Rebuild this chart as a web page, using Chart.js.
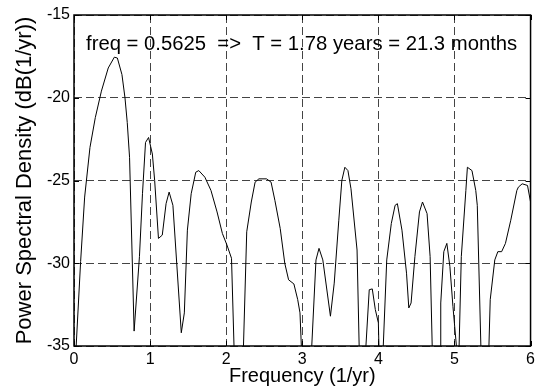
<!DOCTYPE html>
<html>
<head>
<meta charset="utf-8">
<script src="https://cdn.jsdelivr.net/npm/chart.js@4/dist/chart.umd.min.js"></script>
<style>
body { margin: 0; background: #fff; }
#wrap { width: 539px; height: 388px; }
</style>
</head>
<body>
<div id="wrap"><canvas id="psd"></canvas></div>
<script>
// spectrum (1/yr, dB)
const freq = [0, 0.087, 0.14, 0.21, 0.28, 0.36, 0.45, 0.53, 0.57, 0.63, 0.67, 0.70, 0.73, 0.79, 0.86, 0.90, 0.94, 0.98,
  1.03, 1.06, 1.11, 1.16, 1.21, 1.25, 1.30, 1.41, 1.45, 1.49, 1.54, 1.60, 1.64, 1.72, 1.80, 1.88, 1.95,
  2.01, 2.07, 2.165, 2.27, 2.33, 2.38, 2.43, 2.53, 2.59, 2.64, 2.71, 2.77, 2.82, 2.89, 2.94, 2.97,
  3.05, 3.18, 3.22, 3.27, 3.37, 3.42, 3.48, 3.52, 3.56, 3.60, 3.64, 3.72, 3.75, 3.79, 3.83, 3.88, 3.92, 3.96,
  4.00, 4.01, 4.035, 4.06, 4.11, 4.17, 4.22, 4.25, 4.31, 4.37, 4.40, 4.43, 4.48, 4.54, 4.58, 4.64, 4.68, 4.71, 4.76,
  4.81, 4.82, 4.86, 4.90, 4.94, 4.98, 5.035, 5.045, 5.09, 5.15, 5.17, 5.23, 5.28, 5.30, 5.35, 5.40, 5.45, 5.47,
  5.53, 5.57, 5.62, 5.67, 5.74, 5.82, 5.84, 5.89, 5.96, 6.0];
const psd = [-37.5, -29.9, -26.0, -23.0, -21.2, -19.6, -18.2, -17.55, -17.6, -18.6, -20.0, -21.5, -23.6, -34.1, -29.6, -25.8, -22.7, -22.4,
  -23.4, -25.0, -28.5, -28.3, -26.4, -25.7, -26.5, -34.2, -33.0, -28.0, -25.8, -24.5, -24.4, -24.8, -25.6, -26.9, -28.2,
  -28.9, -29.7, -45, -28.1, -26.3, -25.1, -24.9, -24.9, -25.1, -26.2, -27.9, -30.0, -31.0, -31.25, -32.2, -33.0,
  -42, -29.8, -29.1, -29.8, -33.2, -31.2, -27.4, -25.0, -24.2, -24.4, -25.5, -29.2, -35.5, -40, -35.5, -31.6, -31.55, -32.8,
  -33.6, -35.5, -40, -35.5, -29.8, -27.6, -26.5, -26.4, -28.0, -30.6, -32.7, -32.4, -29.6, -26.9, -26.3, -27.0, -29.6, -35.5, -40,
  -35.5, -32.4, -29.3, -28.8, -30.2, -32.6, -35.5, -38, -29.6, -25.6, -24.2, -24.4, -25.6, -26.5, -35.5, -40, -35.5, -32.2,
  -29.8, -29.3, -29.3, -28.8, -27.4, -25.6, -25.4, -25.2, -25.3, -26.3];
const xTicks = [0, 1, 2, 3, 4, 5, 6];
const yTicks = [-35, -30, -25, -20, -15];
const note = 'freq = 0.5625  =>  T = 1.78 years = 21.3 months';

const FONT = "'Liberation Sans', Arial, sans-serif";

// box on all four sides + matlab style inward ticks + the note
const boxPlugin = {
  id: 'box',
  afterDraw(chart) {
    const ctx = chart.ctx;
    const a = chart.chartArea;
    const xs = chart.scales.x, ys = chart.scales.y;
    ctx.save();
    ctx.strokeStyle = '#000';
    ctx.lineWidth = 1;
    ctx.beginPath();
    xTicks.forEach(v => {
      const px = Math.round(xs.getPixelForValue(v)) + 0.5;
      ctx.moveTo(px, a.bottom); ctx.lineTo(px, a.bottom - 5);
      ctx.moveTo(px, a.top); ctx.lineTo(px, a.top + 5);
    });
    yTicks.forEach(v => {
      const py = Math.round(ys.getPixelForValue(v)) + 0.5;
      ctx.moveTo(a.left, py); ctx.lineTo(a.left + 5, py);
      ctx.moveTo(a.right, py); ctx.lineTo(a.right - 5, py);
    });
    ctx.stroke();
    ctx.lineWidth = 1.5;
    ctx.strokeRect(a.left, a.top, a.right - a.left, a.bottom - a.top);
    ctx.fillStyle = '#000';
    ctx.font = '20.3px ' + FONT;
    ctx.textBaseline = 'alphabetic';
    ctx.fillText(note, 86, 50);
    ctx.restore();
  }
};

new Chart(document.getElementById('psd'), {
  type: 'line',
  data: {
    datasets: [{
      data: freq.map((f, i) => ({ x: f, y: psd[i] })),
      borderColor: '#000',
      borderWidth: 1,
      pointRadius: 0,
      tension: 0,
      fill: false,
      clip: 0
    }]
  },
  options: {
    responsive: true,
    maintainAspectRatio: false,
    animation: false,
    layout: { padding: { top: 15, right: 4, left: 0, bottom: 0 } },
    plugins: { legend: { display: false }, tooltip: { enabled: false } },
    scales: {
      x: {
        type: 'linear', min: 0, max: 6,
        afterFit(s) { s.height = 42; },
        afterBuildTicks(s) { s.ticks = xTicks.map(v => ({ value: v })); },
        grid: { color: '#444', drawTicks: false, lineWidth: 1 },
        border: { display: false, dash: [8, 4] },
        ticks: { color: '#000', font: { family: FONT, size: 16 }, padding: 4, maxRotation: 0 },
        title: { display: true, text: 'Frequency (1/yr)', color: '#000', font: { family: FONT, size: 20 }, padding: { top: 0, bottom: 0 } }
      },
      y: {
        type: 'linear', min: -35, max: -15,
        afterFit(s) { s.width = 74; },
        afterBuildTicks(s) { s.ticks = yTicks.map(v => ({ value: v })); },
        grid: { color: '#444', drawTicks: false, lineWidth: 1 },
        border: { display: false, dash: [8, 4] },
        ticks: { color: '#000', font: { family: FONT, size: 16 }, padding: 4 },
        title: { display: true, text: 'Power Spectral Density (dB(1/yr))', color: '#000', font: { family: FONT, size: 22 }, padding: { top: 12, bottom: 0 } }
      }
    }
  },
  plugins: [boxPlugin]
});
</script>
</body>
</html>
